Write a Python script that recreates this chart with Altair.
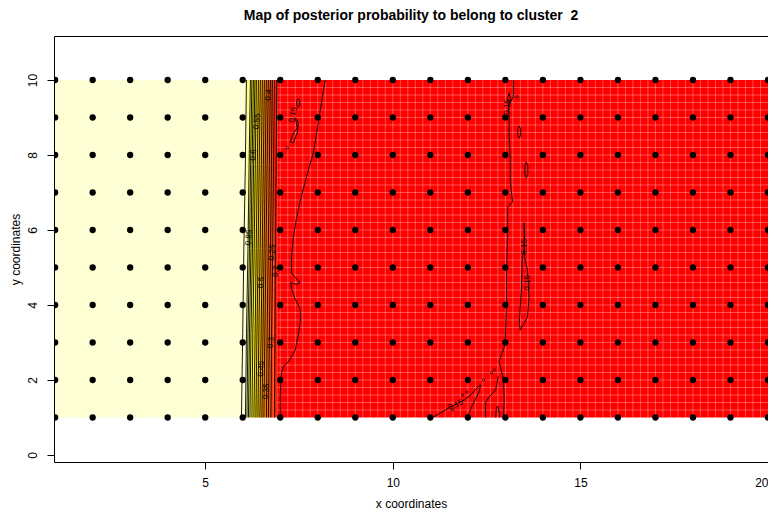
import altair as alt
import numpy as np
import pandas as pd

TITLE = "Map of posterior probability to belong to cluster \u00a02"
FONT = "Liberation Sans"
X_DOMAIN = [0.97, 20.0]
Y_DOMAIN = [-0.187, 11.173]

# heat.colors(12) and the probability breaks between them
heat_colors = ["#FF0000", "#FF2000", "#FF4000", "#FF6000", "#FF8000", "#FF9F00",
               "#FFBF00", "#FFDF00", "#FFFF00", "#FFFF2A", "#FFFF80", "#FFFFD5"]
heat_breaks = [0.175, 0.25, 0.325, 0.4, 0.475, 0.55, 0.625, 0.7, 0.775, 0.85, 0.925]

# posterior probability image: vertical bands (x from, x to, probability)
band_x0 = [1.00, 6.11, 6.20, 6.26, 6.33, 6.41, 6.49, 6.57, 6.65, 6.73, 6.82, 6.92]
band_x1 = [6.11, 6.20, 6.26, 6.33, 6.41, 6.49, 6.57, 6.65, 6.73, 6.82, 6.92, 20.0]
band_p = [0.97, 0.89, 0.81, 0.74, 0.66, 0.59, 0.51, 0.44, 0.36, 0.29, 0.21, 0.13]
img_y0 = 1.0
img_y1 = 10.0
img_step = 0.2       # pixel size of the image grid
red_x0 = 6.92        # where the image becomes uniformly red

# sampled sites
site_x = list(range(1, 21))
site_y = list(range(1, 11))

# contour levels in the transition zone, x read at y = 1, 3.25, 5.5, 7.75, 10
lev_y = [1.0, 3.25, 5.5, 7.75, 10.0]
lev_values = [0.95, 0.9, 0.85, 0.8, 0.75, 0.7, 0.65, 0.6, 0.55, 0.5, 0.45, 0.4, 0.35, 0.3, 0.25, 0.2]
lev_x_y1 = [5.966, 6.072, 6.112, 6.152, 6.192, 6.245, 6.298, 6.351, 6.405, 6.458, 6.511, 6.564, 6.630, 6.683, 6.750, 6.843]
lev_x_y3 = [6.00, 6.10, 6.14, 6.18, 6.22, 6.27, 6.33, 6.38, 6.43, 6.49, 6.54, 6.59, 6.65, 6.71, 6.77, 6.86]
lev_x_y5 = [6.03, 6.14, 6.18, 6.22, 6.26, 6.305, 6.36, 6.41, 6.465, 6.52, 6.57, 6.62, 6.68, 6.74, 6.80, 6.875]
lev_x_y7 = [6.07, 6.17, 6.21, 6.25, 6.29, 6.335, 6.39, 6.44, 6.495, 6.55, 6.60, 6.65, 6.71, 6.765, 6.82, 6.89]
lev_x_y10 = [6.099, 6.205, 6.245, 6.285, 6.325, 6.365, 6.418, 6.471, 6.524, 6.577, 6.630, 6.683, 6.737, 6.790, 6.843, 6.909]

# 0.15 contours in the red zone
c1_x = [7.00, 7.00, 7.03, 7.10, 7.23, 7.40, 7.48, 7.54, 7.53, 7.40, 7.31, 7.28, 7.43, 7.53, 7.38, 7.30, 7.30, 7.35, 7.43, 7.54, 7.64, 7.75, 7.88, 7.96, 8.05, 8.15, 8.20]
c1_y = [1.0, 1.6, 2.2, 2.38, 2.5, 2.8, 3.2, 3.6, 3.9, 4.15, 4.4, 4.6, 4.55, 4.6, 4.75, 4.85, 5.3, 5.8, 6.3, 6.8, 7.2, 7.6, 8.05, 8.5, 9.1, 9.7, 10.0]
c2_x = [13.21, 13.21, 13.08, 13.10, 13.10, 13.13, 13.13, 13.19, 13.06, 13.06, 13.03, 13.03, 13.00, 12.97, 12.87, 12.83, 12.87, 12.95, 12.97, 12.95]
c2_y = [10.0, 9.55, 9.3, 9.0, 8.5, 7.95, 7.33, 6.75, 6.6, 5.8, 4.9, 4.05, 3.15, 2.88, 2.6, 2.5, 2.35, 2.0, 1.47, 1.0]
c3_x = [12.47, 12.47, 12.57, 12.74, 12.81]
c3_y = [1.0, 1.39, 1.55, 1.73, 2.1]
c4_x = [12.74, 12.76, 12.80, 12.84, 12.84]
c4_y = [1.0, 1.25, 1.3, 1.1, 1.0]
c5_x = [11.06, 11.54, 11.91, 12.13, 12.26, 12.34, 12.30, 12.13, 11.99]
c5_y = [1.0, 1.28, 1.47, 1.65, 1.81, 1.87, 1.68, 1.35, 1.0]
c6_x = [13.50, 13.50, 13.45, 13.43, 13.37, 13.40, 13.59, 13.63, 13.59, 13.51, 13.51, 13.50]
c6_y = [6.19, 5.47, 5.28, 4.48, 3.52, 3.33, 3.68, 4.21, 4.93, 5.28, 6.0, 6.19]
c7_x = [13.37, 13.41, 13.41, 13.37, 13.33, 13.33, 13.37]
c7_y = [8.45, 8.53, 8.69, 8.77, 8.69, 8.53, 8.45]
c8_x = [13.56, 13.60, 13.60, 13.56, 13.52, 13.52, 13.56]
c8_y = [7.39, 7.48, 7.72, 7.81, 7.72, 7.48, 7.39]
c9_x = [13.08, 13.06, 13.10, 13.14, 13.10, 13.08]
c9_y = [9.35, 9.5, 9.65, 9.5, 9.35, 9.35]
c10_x = [7.48, 7.52, 7.52, 7.48, 7.44, 7.44, 7.48]
c10_y = [9.28, 9.33, 9.45, 9.5, 9.45, 9.33, 9.28]
c11_x = [7.40, 7.46, 7.35, 7.27, 7.35, 7.46, 7.48, 7.40]
c11_y = [8.99, 8.72, 8.59, 8.35, 8.32, 8.61, 8.88, 8.99]

# tiny closed contours drawn as dots
dot_x = [7.19, 12.42, 12.63, 12.71, 11.97, 11.86, 11.60, 13.31]
dot_y = [8.19, 2.0, 2.19, 2.27, 1.68, 1.6, 1.2, 9.55]

# contour labels
lab_text = ["0.4", "0.55", "0.6", "0.85", "0.5", "0.25", "0.2", "0.3", "0.45", "0.35",
            "0.15", "0.15", "0.15", "0.15", "0.15"]
lab_x = [6.69, 6.39, 6.29, 6.17, 6.50, 6.79, 6.89, 6.76, 6.50, 6.63,
         7.35, 13.06, 13.51, 13.59, 11.68]
lab_y = [9.6, 8.9, 8.0, 5.8, 4.6, 5.4, 4.9, 3.0, 2.3, 1.7,
         9.07, 9.28, 5.55, 4.59, 1.33]
lab_angle = [274, 274, 274, 274, 274, 274, 274, 274, 274, 274,
             282, 272, 272, 272, 334]

# ---------------------------------------------------------------- tables
bands = pd.DataFrame({"x0": band_x0, "x1": band_x1, "p": band_p,
                      "y0": img_y0, "y1": img_y1})

seam_v = pd.DataFrame({"x": np.round(np.arange(7.0, band_x1[-1], img_step), 3)})
seam_v["y0"] = img_y0
seam_v["y1"] = img_y1
seam_h = pd.DataFrame({"y": np.round(np.arange(img_y0 + img_step, img_y1 - 0.01, img_step), 3)})
seam_h["x0"] = red_x0
seam_h["x1"] = band_x1[-1]

sites = pd.DataFrame([(a, b) for a in site_x for b in site_y], columns=["x", "y"])

paths = []
for j, lv in enumerate(lev_values):
    xs = [lev_x_y1[j], lev_x_y3[j], lev_x_y5[j], lev_x_y7[j], lev_x_y10[j]]
    paths.append((xs, lev_y))
for xs, ys in [(c1_x, c1_y), (c2_x, c2_y), (c3_x, c3_y), (c4_x, c4_y), (c5_x, c5_y),
               (c6_x, c6_y), (c7_x, c7_y), (c8_x, c8_y), (c9_x, c9_y), (c10_x, c10_y),
               (c11_x, c11_y)]:
    paths.append((xs, ys))
rows = []
for k, (xs, ys) in enumerate(paths):
    for i, (a, b) in enumerate(zip(xs, ys)):
        rows.append({"id": k, "ord": i, "x": a, "y": b})
contours = pd.DataFrame(rows)

dots = pd.DataFrame({"x": dot_x, "y": dot_y})
labels = pd.DataFrame({"t": lab_text, "x": lab_x, "y": lab_y, "a": lab_angle})

# ---------------------------------------------------------------- chart
xsc = alt.Scale(domain=X_DOMAIN, nice=False, zero=False)
ysc = alt.Scale(domain=Y_DOMAIN, nice=False, zero=False)

x_axis = alt.Axis(values=[5, 10, 15, 20], title="x coordinates", grid=False, domain=False,
                  tickSize=7, tickColor="black", labelColor="black", labelFontSize=12,
                  labelFont=FONT, labelPadding=8, labelFlush=True, titleFont=FONT,
                  titleFontSize=12, titleFontWeight="normal", titleColor="black",
                  titlePadding=10)
y_axis = alt.Axis(values=[0, 2, 4, 6, 8, 10], title="y coordinates", grid=False, domain=False,
                  tickSize=7, tickColor="black", labelColor="black", labelFontSize=12,
                  labelFont=FONT, labelAngle=270, labelAlign="center", labelBaseline="bottom",
                  labelPadding=8, titleFont=FONT, titleFontSize=12, titleFontWeight="normal",
                  titleColor="black", titlePadding=4)

img = alt.Chart(bands).mark_rect(strokeWidth=0).encode(
    x=alt.X("x0:Q", scale=xsc, axis=x_axis),
    x2="x1:Q",
    y=alt.Y("y0:Q", scale=ysc, axis=y_axis),
    y2="y1:Q",
    color=alt.Color("p:Q", scale=alt.Scale(type="threshold", domain=heat_breaks,
                                           range=heat_colors), legend=None),
)

sv = alt.Chart(seam_v).mark_rule(color="white", strokeWidth=1, opacity=0.3).encode(
    x=alt.X("x:Q", scale=xsc), y=alt.Y("y0:Q", scale=ysc), y2="y1:Q")
sh = alt.Chart(seam_h).mark_rule(color="white", strokeWidth=1, opacity=0.3).encode(
    y=alt.Y("y:Q", scale=ysc), x=alt.X("x0:Q", scale=xsc), x2="x1:Q")

lines = alt.Chart(contours).mark_line(color="black", strokeWidth=0.9, clip=True).encode(
    x=alt.X("x:Q", scale=xsc), y=alt.Y("y:Q", scale=ysc),
    detail="id:N", order="ord:Q")

dotm = alt.Chart(dots).mark_point(color="black", size=6, strokeWidth=0.9, filled=False).encode(
    x=alt.X("x:Q", scale=xsc), y=alt.Y("y:Q", scale=ysc))

labm = alt.Chart(labels).mark_text(font=FONT, fontSize=8, color="black").encode(
    x=alt.X("x:Q", scale=xsc), y=alt.Y("y:Q", scale=ysc), text="t:N",
    angle=alt.Angle("a:Q", scale=None))

pts = alt.Chart(sites).mark_circle(size=40, color="black", opacity=1, clip=True).encode(
    x=alt.X("x:Q", scale=xsc), y=alt.Y("y:Q", scale=ysc))

chart = alt.layer(img, sv, sh, lines, dotm, labm, pts).properties(
    width=714, height=426,
    title=alt.TitleParams(TITLE, font=FONT, fontSize=14, fontWeight="bold", color="black",
                          anchor="middle", offset=13),
    autosize=alt.AutoSizeParams(type="none"),
    padding={"left": 46, "top": 28, "right": 0, "bottom": 48},
).configure_view(stroke="black", strokeWidth=1)

chart.save("out.html", embed_options={"renderer": "svg", "actions": False})
